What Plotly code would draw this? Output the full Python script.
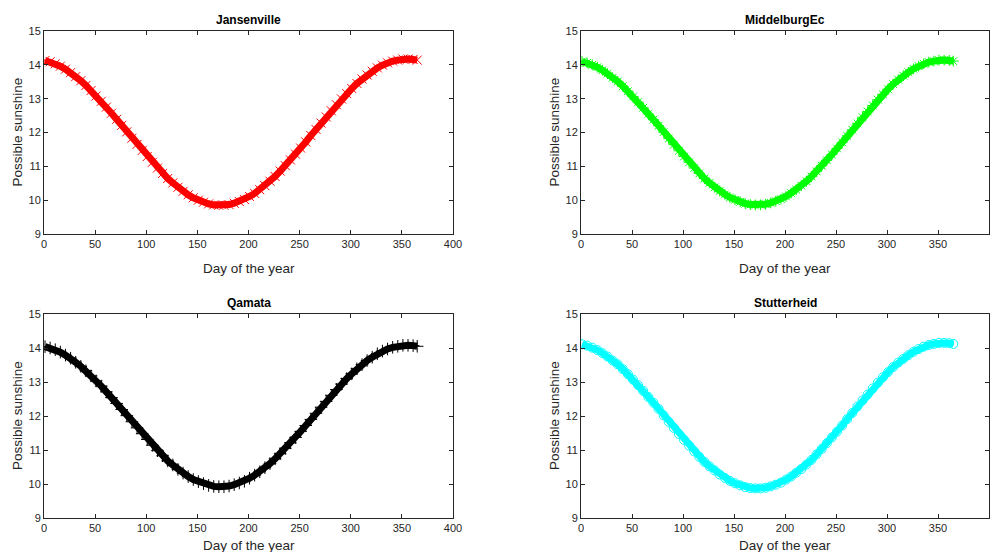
import plotly.graph_objects as go

days = [1, 6, 11, 16, 21, 26, 31, 36, 41, 46, 51, 56, 61, 66, 71, 76, 81, 86, 91, 96,
        101, 106, 111, 116, 121, 126, 131, 136, 141, 146, 151, 156, 161, 166, 171, 176,
        181, 186, 191, 196, 201, 206, 211, 216, 221, 226, 231, 236, 241, 246, 251, 256,
        261, 266, 271, 276, 281, 286, 291, 296, 301, 306, 311, 316, 321, 326, 331, 336,
        341, 346, 351, 356, 361, 365]

jansenville = [14.13, 14.09, 14.03, 13.96, 13.87, 13.77, 13.65, 13.53, 13.39, 13.24,
               13.08, 12.92, 12.75, 12.57, 12.39, 12.21, 12.02, 11.83, 11.65, 11.47,
               11.29, 11.12, 10.95, 10.79, 10.64, 10.51, 10.38, 10.26, 10.16, 10.07,
               10.00, 9.94, 9.89, 9.86, 9.85, 9.85, 9.87, 9.91, 9.96, 10.02,
               10.11, 10.20, 10.31, 10.43, 10.56, 10.70, 10.86, 11.02, 11.19, 11.36,
               11.54, 11.72, 11.91, 12.09, 12.28, 12.46, 12.64, 12.82, 12.99, 13.15,
               13.30, 13.45, 13.58, 13.70, 13.81, 13.91, 13.99, 14.06, 14.11, 14.14,
               14.17, 14.17, 14.16, 14.14]

middelburg = [14.10, 14.06, 14.00, 13.93, 13.84, 13.74, 13.62, 13.51, 13.37, 13.22,
              13.06, 12.90, 12.73, 12.55, 12.38, 12.20, 12.01, 11.82, 11.64, 11.46,
              11.29, 11.12, 10.95, 10.79, 10.64, 10.51, 10.38, 10.27, 10.17, 10.08,
              10.01, 9.95, 9.90, 9.87, 9.86, 9.86, 9.88, 9.92, 9.97, 10.03,
              10.11, 10.21, 10.31, 10.43, 10.56, 10.70, 10.85, 11.02, 11.18, 11.35,
              11.53, 11.71, 11.90, 12.08, 12.27, 12.45, 12.62, 12.80, 12.97, 13.13,
              13.28, 13.43, 13.56, 13.68, 13.78, 13.88, 13.96, 14.03, 14.08, 14.11,
              14.14, 14.14, 14.13, 14.11]

qamata = [14.04, 14.00, 13.95, 13.88, 13.79, 13.70, 13.58, 13.46, 13.33, 13.18,
          13.03, 12.88, 12.71, 12.54, 12.37, 12.19, 12.01, 11.83, 11.65, 11.48,
          11.31, 11.14, 10.98, 10.83, 10.68, 10.56, 10.43, 10.32, 10.22, 10.13,
          10.07, 10.01, 9.96, 9.93, 9.92, 9.92, 9.94, 9.98, 10.03, 10.08,
          10.17, 10.26, 10.36, 10.48, 10.60, 10.74, 10.89, 11.05, 11.21, 11.37,
          11.55, 11.72, 11.90, 12.08, 12.26, 12.43, 12.61, 12.78, 12.94, 13.10,
          13.24, 13.39, 13.51, 13.63, 13.73, 13.83, 13.91, 13.97, 14.02, 14.05,
          14.08, 14.08, 14.07, 14.05]

stutterheid = [14.11, 14.07, 14.01, 13.94, 13.85, 13.75, 13.63, 13.52, 13.38, 13.23,
               13.07, 12.91, 12.74, 12.56, 12.39, 12.21, 12.02, 11.83, 11.65, 11.47,
               11.30, 11.13, 10.96, 10.80, 10.65, 10.52, 10.40, 10.28, 10.18, 10.09,
               10.02, 9.96, 9.91, 9.88, 9.87, 9.87, 9.89, 9.93, 9.98, 10.04,
               10.13, 10.22, 10.33, 10.44, 10.57, 10.71, 10.87, 11.03, 11.20, 11.37,
               11.54, 11.72, 11.91, 12.09, 12.28, 12.46, 12.63, 12.81, 12.98, 13.14,
               13.29, 13.44, 13.57, 13.68, 13.79, 13.89, 13.97, 14.04, 14.09, 14.12,
               14.15, 14.15, 14.14, 14.12]

titles = ["Jansenville", "MiddelburgEc", "Qamata", "Stutterheid"]
series = [jansenville, middelburg, qamata, stutterheid]
colors = ["#ff0000", "#00ff00", "#000000", "#00ffff"]
symbols = ["x-thin-open", "asterisk-open", "cross-thin-open", "circle-open"]
x_ticks = [0, 50, 100, 150, 200, 250, 300, 350, 400]
y_ticks = [9, 10, 11, 12, 13, 14, 15]

OFF = 8  # browser body margin
W, H = 1001 - 2 * OFF, 560 - 2 * OFF
# pixel boxes in the page (left, right, top, bottom)
boxes = [(44, 453, 31, 234), (581, 989, 31, 234),
         (44, 453, 314, 518), (581, 989, 314, 518)]
xlabel_y = [268, 268, 545, 545]

fig = go.Figure()
font_family = "Liberation Sans, Arial, sans-serif"
axis_color = "#262626"


def px(xp):
    return (xp - OFF) / W


def py(yp):
    return 1 - (yp - OFF) / H


for i, (name, vals, col, sym, box) in enumerate(zip(titles, series, colors, symbols, boxes)):
    n = i + 1
    xa = "x" if n == 1 else f"x{n}"
    ya = "y" if n == 1 else f"y{n}"
    fig.add_trace(go.Scatter(x=days, y=vals, mode="lines",
                             line=dict(color=col, width=7),
                             xaxis=xa, yaxis=ya, showlegend=False, hoverinfo="skip"))
    fig.add_trace(go.Scatter(x=days, y=vals, mode="markers",
                             marker=dict(symbol=sym, size=9, color=col,
                                         line=dict(color=col, width=1)),
                             xaxis=xa, yaxis=ya, showlegend=False, name=name))
    l, r, t, b = box
    axkw = dict(showline=True, linecolor=axis_color, linewidth=1, mirror="ticks",
                ticks="inside", ticklen=4, tickcolor=axis_color, showgrid=False,
                zeroline=False, automargin=False,
                tickfont=dict(family=font_family, size=11, color=axis_color))
    fig.update_layout(**{
        ("xaxis" if n == 1 else f"xaxis{n}"): dict(
            domain=[px(l), px(r)], range=[0, 400], tickvals=x_ticks,
            anchor=ya, **axkw),
        ("yaxis" if n == 1 else f"yaxis{n}"): dict(
            domain=[py(b), py(t)], range=[9, 15], tickvals=y_ticks,
            anchor=xa, **axkw),
    })
    cxp = (l + r) / 2
    fig.add_annotation(x=px(cxp), y=py(t - 11), xref="paper", yref="paper",
                       xanchor="center", yanchor="middle",
                       text=f"<b>{name}</b>", showarrow=False,
                       font=dict(family=font_family, size=12, color="#000000"))
    fig.add_annotation(x=px(cxp), y=py(xlabel_y[i]), xref="paper", yref="paper",
                       xanchor="center", yanchor="middle",
                       text="Day of the year", showarrow=False,
                       font=dict(family=font_family, size=13.5, color=axis_color))
    fig.add_annotation(x=px(l - 27), y=py((t + b) / 2), xref="paper", yref="paper",
                       xanchor="center", yanchor="middle",
                       text="Possible sunshine", showarrow=False, textangle=-90,
                       font=dict(family=font_family, size=13.5, color=axis_color))

fig.update_layout(width=W, height=H, margin=dict(l=0, r=0, t=0, b=0),
                  plot_bgcolor="white", paper_bgcolor="white")
fig.write_html("out.html")
